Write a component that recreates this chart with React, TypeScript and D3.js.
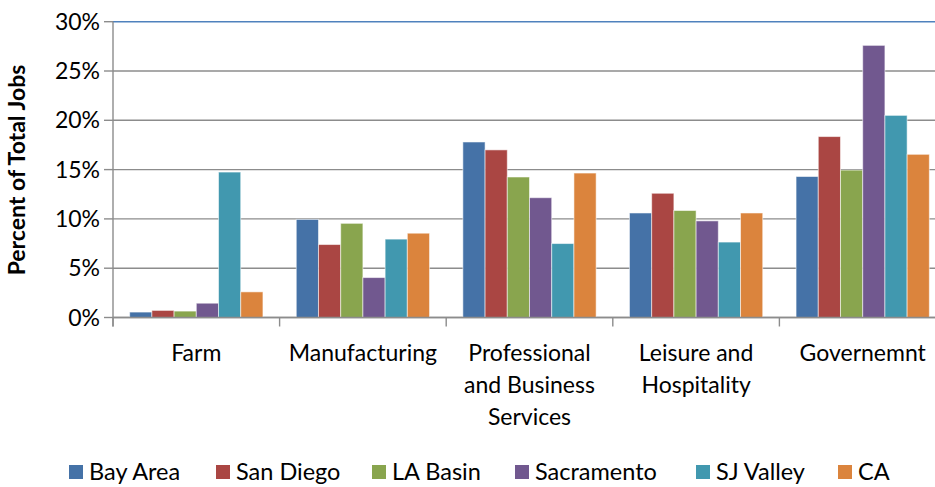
import React from "react";
import * as d3 from "d3";

const categories = ["Farm", "Manufacturing", "Professional and Business Services", "Leisure and Hospitality", "Governemnt"];
const categoryLines = [["Farm"], ["Manufacturing"], ["Professional", "and Business", "Services"], ["Leisure and", "Hospitality"], ["Governemnt"]];
const seriesNames = ["Bay Area", "San Diego", "LA Basin", "Sacramento", "SJ Valley", "CA"];
const bayArea = [0.55, 9.95, 17.8, 10.6, 14.3];
const sanDiego = [0.72, 7.4, 17.0, 12.6, 18.35];
const laBasin = [0.65, 9.55, 14.25, 10.85, 14.95];
const sacramento = [1.45, 4.05, 12.15, 9.8, 27.6];
const sjValley = [14.75, 7.95, 7.5, 7.65, 20.5];
const ca = [2.6, 8.55, 14.65, 10.6, 16.55];
const seriesValues = [bayArea, sanDiego, laBasin, sacramento, sjValley, ca];
const colors = ["#4572A7", "#AA4643", "#89A54E", "#71588F", "#4198AF", "#DB843D"];
const yTicks = [0, 5, 10, 15, 20, 25, 30];
const legendX = [69, 216, 372, 515, 696, 838];

const FONT = "Lato, 'Open Sans', sans-serif";

export default function App() {
  const W = 935, H = 487;
  const left = 113, right = 946, top = 21.7, bottom = 317.5;
  const x = d3.scaleBand<string>().domain(categories).range([left, right]).paddingInner(0).paddingOuter(0);
  const xs = d3.scaleBand<string>().domain(seriesNames).range([0, x.bandwidth()]).paddingInner(0).paddingOuter(0.75);
  const y = d3.scaleLinear().domain([0, 30]).range([bottom, top]);
  const boundaries = d3.range(categories.length + 1).map((i) => left + i * x.bandwidth());

  return (
    <svg width={W} height={H} style={{ position: "absolute", left: 0, top: 0, background: "#fff" }} fontFamily={FONT}>
      {yTicks.map((t) => (
        <line key={"g" + t} x1={left} x2={right} y1={y(t)} y2={y(t)} stroke={t === 30 ? "#4F81BD" : "#8C8C8C"} strokeWidth={t === 30 ? 1.6 : 1.4} />
      ))}
      {yTicks.map((t) => (
        <line key={"t" + t} x1={104} x2={left} y1={y(t)} y2={y(t)} stroke="#8C8C8C" strokeWidth={1.4} />
      ))}
      {yTicks.map((t) => (
        <text key={"l" + t} x={100} y={y(t)} dy="0.35em" textAnchor="end" fontSize={23} fill="#000">{t}%</text>
      ))}
      {seriesValues.map((vals, si) =>
        vals.map((v, ci) => (
          <rect
            key={si + "-" + ci}
            x={(x(categories[ci]) as number) + (xs(seriesNames[si]) as number)}
            y={y(v)}
            width={xs.bandwidth()}
            height={y(0) - y(v)}
            fill={colors[si]}
            stroke="rgba(255,255,255,0.55)"
            strokeWidth={1}
          />
        ))
      )}
      <line x1={left} x2={left} y1={top} y2={bottom + 9} stroke="#8C8C8C" strokeWidth={1.4} />
      <line x1={left} x2={right} y1={bottom} y2={bottom} stroke="#8C8C8C" strokeWidth={1.4} />
      {boundaries.map((bx, i) => (
        <line key={"b" + i} x1={bx} x2={bx} y1={bottom} y2={bottom + 9} stroke="#8C8C8C" strokeWidth={1.4} />
      ))}
      {categoryLines.map((lines, ci) => (
        <text key={"c" + ci} textAnchor="middle" fontSize={23} fill="#000">
          {lines.map((ln, li) => (
            <tspan key={li} x={(x(categories[ci]) as number) + x.bandwidth() / 2} y={361 + li * 32}>{ln}</tspan>
          ))}
        </text>
      ))}
      <text transform="translate(25,170) rotate(-90)" textAnchor="middle" fontSize={23} fontWeight="bold" fill="#000">Percent of Total Jobs</text>
      {seriesNames.map((s, i) => (
        <g key={"lg" + i}>
          <rect x={legendX[i]} y={465} width={14} height={14} fill={colors[i]} />
          <text x={legendX[i] + 20} y={480} fontSize={23.5} fill="#000">{s}</text>
        </g>
      ))}
    </svg>
  );
}
